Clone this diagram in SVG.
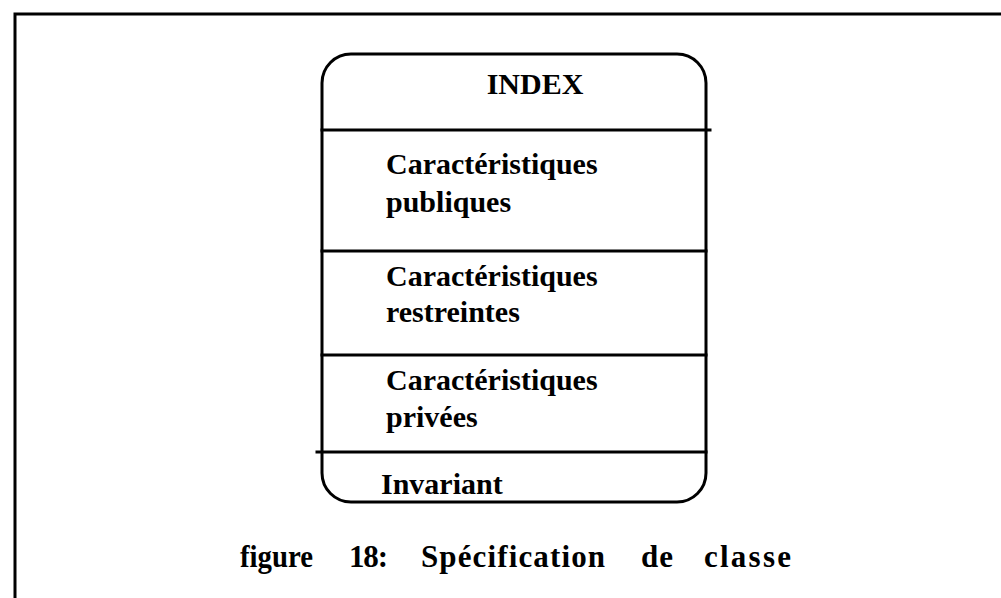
<svg xmlns="http://www.w3.org/2000/svg" width="1001" height="598" viewBox="0 0 1001 598">
<style>
.ln{stroke:#000;stroke-width:3;fill:none;stroke-linecap:square}
.t{font-family:"Liberation Serif",serif;font-weight:bold;font-size:30px;fill:#000}
.cap{font-family:"Liberation Serif",serif;font-weight:bold;font-size:31px;fill:#000}
</style>
<rect width="1001" height="598" fill="#fff"/>
<g id="frame">
<path class="ln" d="M15,598 V14 H1001"/>
</g>
<g id="class-box">
<rect class="ln" x="322" y="54" width="384" height="448" rx="29" ry="29"/>
<line class="ln" x1="322" y1="130" x2="710" y2="130"/>
<line class="ln" x1="322" y1="251" x2="706" y2="251"/>
<line class="ln" x1="322" y1="355" x2="706" y2="355"/>
<line class="ln" x1="317" y1="452" x2="706" y2="452"/>
</g>
<g id="labels">
<text class="t" x="535" y="94" text-anchor="middle">INDEX</text>
<text class="t" x="386" y="174">Caractéristiques</text>
<text class="t" x="386" y="212">publiques</text>
<text class="t" x="386" y="286">Caractéristiques</text>
<text class="t" x="386" y="322">restreintes</text>
<text class="t" x="386" y="390">Caractéristiques</text>
<text class="t" x="386" y="427">privées</text>
<text class="t" x="381" y="494">Invariant</text>
</g>
<g id="caption">
<text class="cap" x="240" y="567" textLength="73" lengthAdjust="spacingAndGlyphs">figure</text>
<text class="cap" x="349" y="567" textLength="39" lengthAdjust="spacing">18:</text>
<text class="cap" x="421" y="567" textLength="184" lengthAdjust="spacing">Spécification</text>
<text class="cap" x="641" y="567" textLength="32" lengthAdjust="spacing">de</text>
<text class="cap" x="704" y="567" textLength="87" lengthAdjust="spacing">classe</text>
</g>
</svg>
